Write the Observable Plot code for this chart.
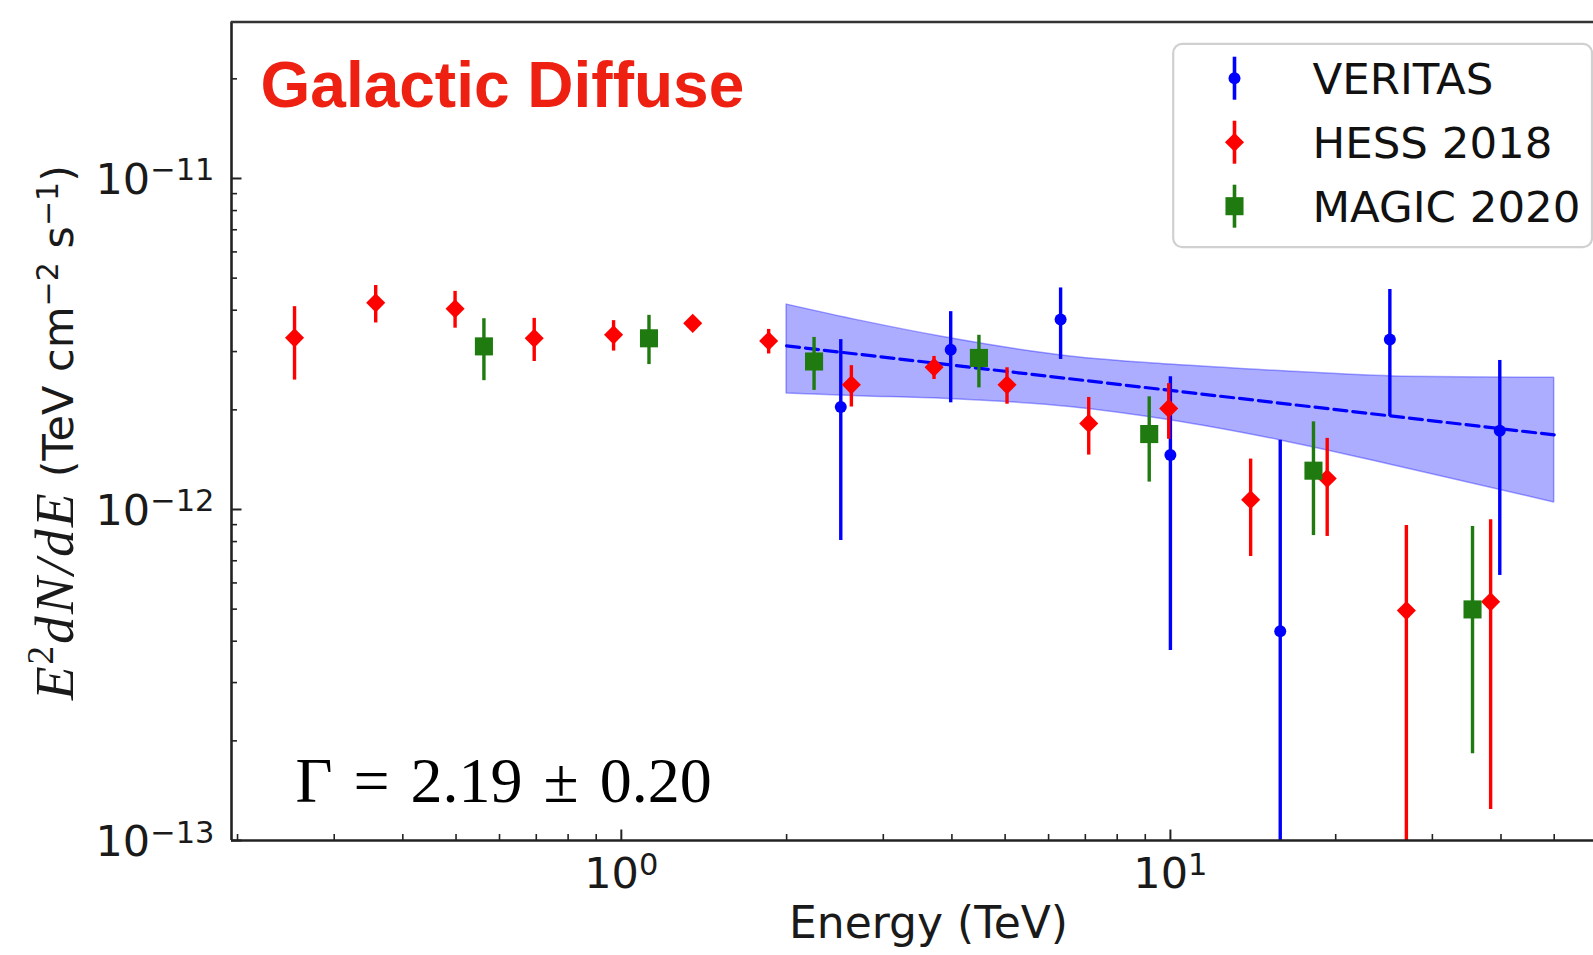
<!DOCTYPE html>
<html><head><meta charset="utf-8">
<script src="https://cdn.jsdelivr.net/npm/d3@7"></script>
<script src="https://cdn.jsdelivr.net/npm/@observablehq/plot@0.6"></script>
<style>
html,body{margin:0;padding:0;background:#fff;}
#chart{width:1593px;height:955px;overflow:hidden;}
</style></head><body><div id="chart"></div>
<script>
// ---------------- data ----------------
const veritasE  = [2.51, 3.98, 6.31, 10.0, 15.85, 25.1, 39.8];
const veritasF  = [2.04e-12, 3.04e-12, 3.75e-12, 1.46e-12, 4.29e-13, 3.26e-12, 1.73e-12];
const veritasHi = [3.26e-12, 3.96e-12, 4.67e-12, 2.52e-12, 1.62e-12, 4.62e-12, 2.82e-12];
const veritasLo = [8.06e-13, 2.10e-12, 2.84e-12, 3.75e-13, 1e-14, 1.91e-12, 6.32e-13];

const hessE  = [0.254, 0.357, 0.498, 0.694, 0.968, 1.349, 1.855, 2.624, 3.711, 5.04, 7.10, 9.93, 14.0, 19.3, 26.9, 38.3];
const hessF  = [3.30e-12, 4.21e-12, 4.04e-12, 3.29e-12, 3.37e-12, 3.65e-12, 3.23e-12, 2.38e-12, 2.69e-12, 2.38e-12, 1.82e-12, 2.02e-12, 1.07e-12, 1.24e-12, 4.95e-13, 5.26e-13];
const hessHi = [4.10e-12, 4.75e-12, 4.56e-12, 3.78e-12, 3.72e-12, 3.78e-12, 3.50e-12, 2.72e-12, 2.90e-12, 2.68e-12, 2.18e-12, 2.40e-12, 1.42e-12, 1.64e-12, 8.95e-13, 9.31e-13];
const hessLo = [2.46e-12, 3.66e-12, 3.53e-12, 2.80e-12, 3.01e-12, 3.52e-12, 2.95e-12, 2.04e-12, 2.47e-12, 2.08e-12, 1.46e-12, 1.63e-12, 7.21e-13, 8.29e-13, 1e-14, 1.24e-13];

const magicE  = [0.562, 1.123, 2.244, 4.48, 9.15, 18.22, 35.5];
const magicF  = [3.11e-12, 3.29e-12, 2.80e-12, 2.87e-12, 1.69e-12, 1.31e-12, 4.99e-13];
const magicHi = [3.77e-12, 3.86e-12, 3.31e-12, 3.36e-12, 2.19e-12, 1.84e-12, 8.89e-13];
const magicLo = [2.45e-12, 2.74e-12, 2.29e-12, 2.33e-12, 1.21e-12, 8.34e-13, 1.83e-13];

// power-law fit (dashed line) and its uncertainty band
const fitE = [2, 50];
const fitF = [3.12e-12, 1.68e-12];
const bandE  = [2, 2.72, 3.86, 6.57, 10, 15.8, 26.5, 50];
const bandHi = [4.16e-12, 3.72e-12, 3.32e-12, 2.90e-12, 2.74e-12, 2.62e-12, 2.52e-12, 2.50e-12];
const bandLo = [2.24e-12, 2.20e-12, 2.16e-12, 2.04e-12, 1.86e-12, 1.62e-12, 1.34e-12, 1.05e-12];

// axes
const xDomain = [0.195, 58.96];
const yDomain = [1e-13, 2.97e-11];
const xMajor = [1, 10];
const xTickLabels = ["10^0", "10^1"];
const xMinor = [0.2,0.3,0.4,0.5,0.6,0.7,0.8,0.9,2,3,4,5,6,7,8,9,20,30,40,50];
const yMajor = [1e-13, 1e-12, 1e-11];
const yTickLabels = ["10^\u221213", "10^\u221212", "10^\u221211"];
const yMinor = [2e-13,3e-13,4e-13,5e-13,6e-13,7e-13,8e-13,9e-13,2e-12,3e-12,4e-12,5e-12,6e-12,7e-12,8e-12,9e-12,2e-11];

const seriesNames   = ["VERITAS", "HESS 2018", "MAGIC 2020"];
const seriesColors  = ["#0000ff", "#ff0000", "#1f7a10"];
const seriesSymbols = ["circle", "diamond2", "square"];
const seriesR       = [6, 8.6, 10.2];

const titleText = "Galactic Diffuse";
const gammaText = "\u0393 = 2.19 \u00b1 0.20";
const xLabel = "Energy (TeV)";

// ---------------- build ----------------
const rows = (E, F, lo, hi) => E.map((e, i) => ({E: e, F: F[i], lo: lo[i], hi: hi[i]}));
const series = [
  rows(veritasE, veritasF, veritasLo, veritasHi),
  rows(hessE, hessF, hessLo, hessHi),
  rows(magicE, magicF, magicLo, magicHi)
];
const fit = fitE.map((e, i) => ({E: e, F: fitF[i]}));
const band = bandE.map((e, i) => ({E: e, lo: bandLo[i], hi: bandHi[i]}));

const W = 1593, H = 955, ML = 231, MT = 21.5, MB = 115, MR = 0;
const PW = W - ML - MR, PH = H - MT - MB;
const axisColor = "#222";

const dataMarks = [];
series.forEach((s, k) => {
  dataMarks.push(Plot.ruleX(s, {x: "E", y1: "lo", y2: "hi", stroke: seriesColors[k], strokeWidth: 3.4, clip: true}));
  dataMarks.push(Plot.dot(s, {x: "E", y: "F", symbol: seriesSymbols[k], r: seriesR[k], fill: seriesColors[k], stroke: "none"}));
});

const vbar = {draw(ctx) { ctx.moveTo(0, -21.5); ctx.lineTo(0, 21.5); }};
const legendMarks = [
  Plot.frame({fill: "white", stroke: "#d0d0d0", strokeWidth: 2.2, rx: 9, ry: 9,
              insetLeft: 941.7, insetTop: 21.8, insetBottom: 593.3, insetRight: 1.5})
];
const rowY = [77.7, 141.7, 205.7];
seriesNames.forEach((name, k) => {
  const dy = rowY[k] - MT;
  legendMarks.push(Plot.dot([name], {frameAnchor: "top-left", dx: 1003, dy, symbol: vbar, r: 1, stroke: seriesColors[k], strokeWidth: 3.6, fill: "none"}));
  legendMarks.push(Plot.dot([name], {frameAnchor: "top-left", dx: 1003, dy, symbol: seriesSymbols[k], r: seriesR[k], fill: seriesColors[k], stroke: "none"}));
  legendMarks.push(Plot.text([name], {frameAnchor: "top-left", dx: 1081, dy: dy + 16, text: d => d, textAnchor: "start", lineAnchor: "bottom", fontSize: 43.5, fill: "#111"}));
});

const plot = Plot.plot({
  width: W, height: H,
  marginLeft: ML, marginTop: MT, marginBottom: MB, marginRight: MR,
  style: {background: "white", fontFamily: "DejaVu Sans", color: "#111"},
  x: {type: "log", domain: xDomain, axis: null},
  y: {type: "log", domain: yDomain, axis: null},
  marks: [
    Plot.areaY(band, {x: "E", y1: "lo", y2: "hi", fill: "blue", fillOpacity: 0.32, stroke: "blue", strokeOpacity: 0.35, strokeWidth: 1.5, curve: "monotone-x"}),
    Plot.line(fit, {x: "E", y: "F", stroke: "blue", strokeWidth: 3.2, strokeDasharray: "13,6"}),
    ...dataMarks,
    // frame lines (left, bottom, top)
    Plot.ruleX([xDomain[0]], {stroke: axisColor, strokeWidth: 2.6}),
    Plot.ruleY([yDomain[0]], {stroke: axisColor, strokeWidth: 2.6}),
    Plot.ruleY([yDomain[1]], {stroke: "#333", strokeWidth: 2.6}),
    // inward ticks
    Plot.tickY(yMajor, {y: d => d, stroke: axisColor, strokeWidth: 2, insetRight: PW - 10.5}),
    Plot.tickY(yMinor, {y: d => d, stroke: axisColor, strokeWidth: 1.6, insetRight: PW - 6}),
    Plot.tickX(xMajor, {x: d => d, stroke: axisColor, strokeWidth: 2, insetTop: PH - 10.5}),
    Plot.tickX(xMinor, {x: d => d, stroke: axisColor, strokeWidth: 1.6, insetTop: PH - 6}),
    // tick labels
    Plot.text(yMajor, {y: d => d, text: (d, i) => yTickLabels[i], frameAnchor: "left", dx: -17, dy: 15.5, textAnchor: "end", lineAnchor: "bottom", fontSize: 43, fill: "#1a1a1a", ariaDescription: "ytick-labels"}),
    Plot.text(xMajor, {x: d => d, text: (d, i) => xTickLabels[i], frameAnchor: "bottom", dy: 47.5, textAnchor: "middle", lineAnchor: "bottom", fontSize: 43, fill: "#1a1a1a", ariaDescription: "xtick-labels"}),
    // axis labels
    Plot.text([xLabel], {frameAnchor: "bottom", dx: 16, dy: 97, text: d => d, textAnchor: "middle", lineAnchor: "bottom", fontSize: 44, fill: "#1a1a1a"}),
    Plot.text(["E2dN/dE (TeV cm-2 s-1)"], {frameAnchor: "left", dx: 72 - ML, dy: 1.3, text: d => d, rotate: -90, textAnchor: "middle", lineAnchor: "bottom", fontSize: 43, fill: "#1a1a1a", ariaDescription: "ylabel"}),
    // annotations
    Plot.text([titleText], {frameAnchor: "top-left", dx: 29, dy: 106 - MT, text: d => d, textAnchor: "start", lineAnchor: "bottom", fontSize: 64, fontWeight: "bold", fontFamily: "Liberation Sans", fill: "#ee2011"}),
    Plot.text([gammaText], {frameAnchor: "bottom-left", dx: 295 - ML, dy: 801.5 - (H - MB), text: d => d, textAnchor: "start", lineAnchor: "bottom", fontSize: 64, fontFamily: "Liberation Serif", fill: "#000", ariaDescription: "gamma"}),
    ...legendMarks
  ]
});

// superscripts in tick labels
d3.select(plot).selectAll('g[aria-description="ytick-labels"] text, g[aria-description="xtick-labels"] text').each(function () {
  const [b, e] = this.textContent.split("^");
  this.textContent = "";
  d3.select(this).append("tspan").text(b);
  d3.select(this).append("tspan").attr("font-size", 30.5).attr("dy", -13.5).text(e);
});
// word spacing of the Γ annotation (mathtext spacing)
d3.select(plot).selectAll('g[aria-description="gamma"] text').style("word-spacing", "5px");
// rich y label
d3.select(plot).selectAll('g[aria-description="ylabel"] text').each(function () {
  this.textContent = "";
  const sel = d3.select(this);
  const serif = "Liberation Serif", sans = "DejaVu Sans";
  const parts = [
    {t: "E", f: serif, s: 55, it: true, dy: 0, ls: 2},
    {t: "2", f: serif, s: 37, dy: -20, ls: 2},
    {t: "dN/dE", f: serif, s: 55, it: true, dy: 20, ls: 2.5},
    {t: "\u00a0(TeV cm", f: sans, s: 43, dy: 0},
    {t: "\u22122", f: sans, s: 30, dy: -15},
    {t: "\u00a0s", f: sans, s: 43, dy: 15},
    {t: "\u22121", f: sans, s: 30, dy: -15},
    {t: ")", f: sans, s: 43, dy: 15}
  ];
  parts.forEach(p => {
    const ts = sel.append("tspan").attr("font-family", p.f).attr("font-size", p.s).text(p.t);
    if (p.dy) ts.attr("dy", p.dy);
    if (p.it) ts.attr("font-style", "italic");
    if (p.ls) ts.attr("letter-spacing", p.ls);
  });
});

document.getElementById("chart").appendChild(plot);
</script></body></html>
